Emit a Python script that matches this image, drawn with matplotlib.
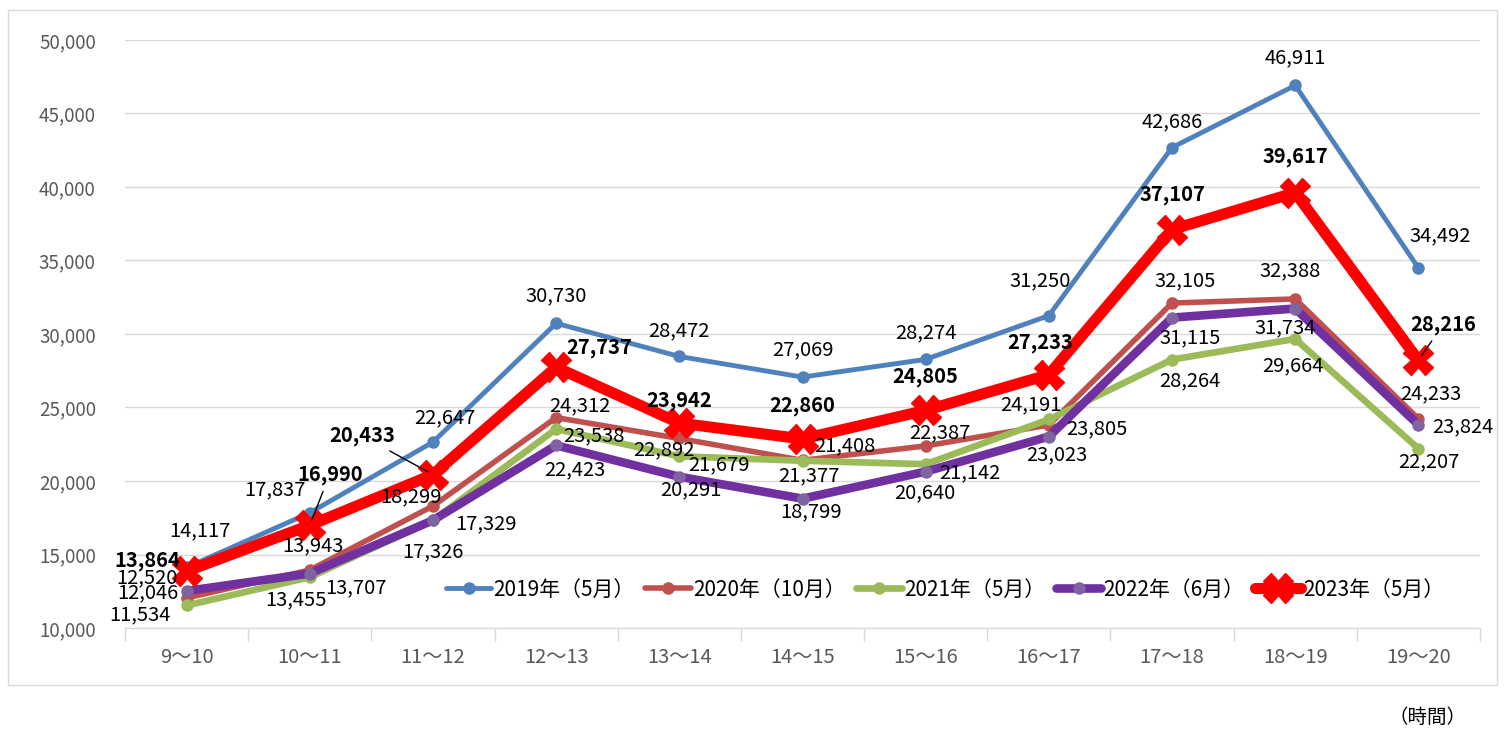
import matplotlib.pyplot as plt
import matplotlib.patches as mpatches
from matplotlib.ticker import FuncFormatter, FixedLocator

plt.rcParams['font.family'] = ['Noto Sans CJK JP', 'DejaVu Sans']

hours = ['9～10', '10～11', '11～12', '12～13', '13～14', '14～15',
         '15～16', '16～17', '17～18', '18～19', '19～20']

v2019 = [14117, 17837, 22647, 30730, 28472, 27069, 28274, 31250, 42686, 46911, 34492]
v2020 = [12046, 13943, 18299, 24312, 22892, 21408, 22387, 23805, 32105, 32388, 24233]
v2021 = [11534, 13455, 17326, 23538, 21679, 21377, 21142, 24191, 28264, 29664, 22207]
v2022 = [12520, 13707, 17329, 22423, 20291, 18799, 20640, 23023, 31115, 31734, 23824]
v2023 = [13864, 16990, 20433, 27737, 23942, 22860, 24805, 27233, 37107, 39617, 28216]

names = ['2019年（5月）', '2020年（10月）', '2021年（5月）', '2022年（6月）', '2023年（5月）']

# label offsets in pixels (dx, dy) per point
off2019 = [(13, 37), (-35, 23), (12, 24), (0, 27), (0, 26), (0, 27), (0, 27), (-9, 35), (0, 26), (0, 28), (22, 32)]
off2020 = [(-39, 5), (3, 24), (-22, 9), (24, 12), (-15, -11), (42, 15), (14, 13), (48, -4), (13, 22), (-5, 28), (12, 25)]
off2021 = [(-47, -9), (-14, -23), (0, -31), (38, -7), (40, -8), (6, -15), (44, -9), (-18, 15), (18, -21), (-2, -27), (10, -13)]
off2022 = [(-40, 13), (46, -14), (53, -4), (19, -24), (12, -13), (9, -13), (-1, -21), (8, -18), (18, -20), (-10, -19), (44, -2)]
off2023 = [(-39, 11), (20, 51), (-71, 39), (43, 20), (0, 23), (0, 33), (0, 34), (-9, 32), (0, 35), (0, 36), (25, 36)]
leader2023 = [False, True, True, False, False, False, False, False, False, False, True]

fig = plt.figure(figsize=(15.1, 7.31), dpi=100)
ax = fig.add_axes([125 / 1510, 103 / 731, 1355 / 1510, 588 / 731])

x = list(range(len(hours)))
styles = [
    (v2019, '#4F81BD', '#4F81BD', 3.5, 'o', 8, off2019),
    (v2020, '#C0504D', '#C0504D', 4.0, 'o', 8, off2020),
    (v2021, '#9BBB59', '#9BBB59', 4.8, 'o', 8, off2021),
    (v2022, '#7030A0', '#8064A2', 6.2, 'o', 8, off2022),
    (v2023, '#FF0000', '#FF0000', 8.0, 'X', 21, off2023),
]

for i, (vals, col, mcol, lw, mk, ms, offs) in enumerate(styles):
    ax.plot(x, vals, color=col, lw=lw, marker=mk, ms=ms, mfc=mcol, mec=mcol,
            label=names[i], zorder=3 + i, solid_capstyle='round')
    bold = (i == 4)
    for j, v in enumerate(vals):
        dx, dy = offs[j]
        kw = {}
        if bold and leader2023[j]:
            kw['arrowprops'] = dict(arrowstyle='-', color='black', lw=1,
                                    shrinkA=3, shrinkB=4)
        ax.annotate(f'{v:,}', (j, v), xytext=(dx, dy), textcoords='offset pixels',
                    ha='center', va='center', fontsize=14.5,
                    fontweight='bold' if bold else 'normal', color='black',
                    zorder=10, **kw)

ax.set_xlim(-0.5, len(hours) - 0.5)
ax.set_ylim(10000, 50000)
ax.set_yticks(range(10000, 50001, 5000))
ax.yaxis.set_major_formatter(FuncFormatter(lambda v, p: f'{int(v):,}'))
ax.grid(axis='y', color='#D9D9D9', lw=1)
ax.set_axisbelow(True)
ax.set_xticks(x)
ax.set_xticklabels(hours)
ax.xaxis.set_minor_locator(FixedLocator([k - 0.5 for k in range(len(hours) + 1)]))
ax.tick_params(axis='x', which='major', length=0, pad=14, labelsize=14.5, labelcolor='#595959')
ax.tick_params(axis='x', which='minor', length=9, color='#D9D9D9', width=1)
ax.tick_params(axis='y', length=0, pad=21, labelsize=13.5, labelcolor='#595959')
for s in ['top', 'right', 'left']:
    ax.spines[s].set_visible(False)
ax.spines['bottom'].set_color('#D9D9D9')

ax.legend(loc='center', bbox_to_anchor=(0.605, 0.065), ncol=5, frameon=False,
          fontsize=15, handlelength=2.2, handletextpad=0.1, columnspacing=0.5,
          borderaxespad=0)

fig.patches.append(mpatches.Rectangle((8 / 1510, 46 / 731), 1489 / 1510, 675 / 731,
                                      transform=fig.transFigure, fill=False,
                                      edgecolor='#D9D9D9', lw=1))
fig.text(1427 / 1510, 1 - 717 / 731, '（時間）', ha='center', va='center', fontsize=14)

fig.savefig('out.png', dpi=100)
